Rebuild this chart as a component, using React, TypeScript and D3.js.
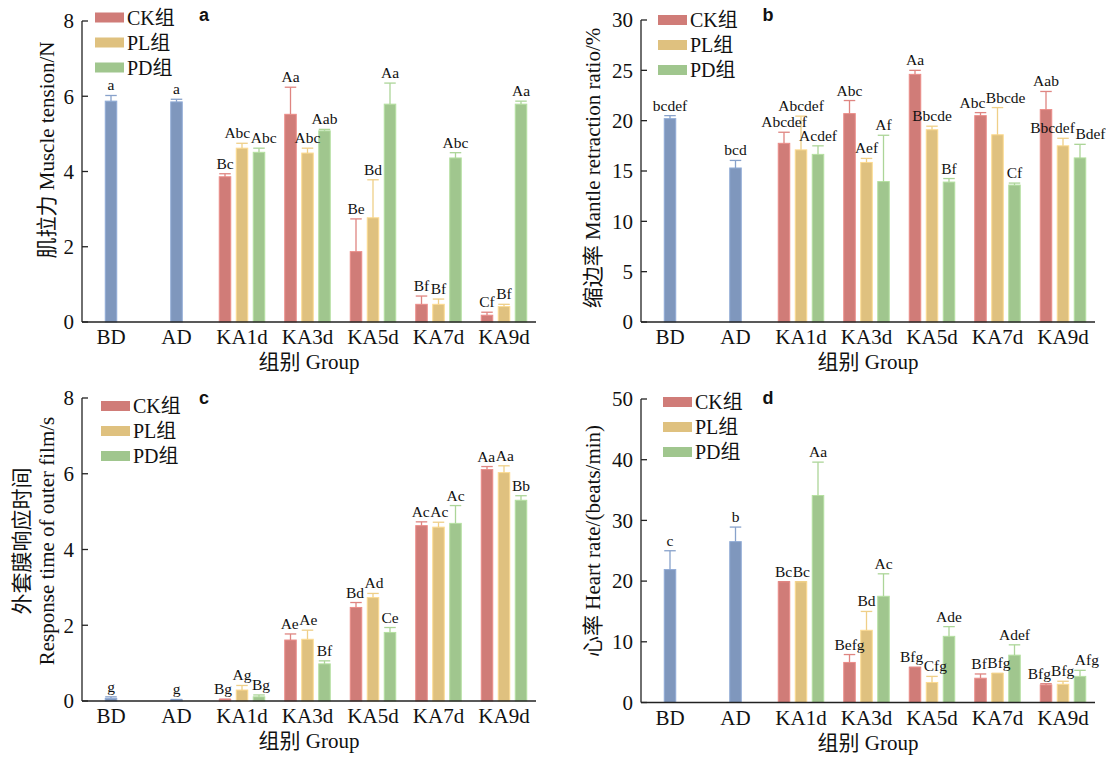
import React from 'react';
import * as d3 from 'd3';

// Groups on the x axis
const categories = ['BD', 'AD', 'KA1d', 'KA3d', 'KA5d', 'KA7d', 'KA9d'];
const baseGroups = ['BD', 'AD'];
const treatGroups = ['KA1d', 'KA3d', 'KA5d', 'KA7d', 'KA9d'];
const seriesNames = ['CK组', 'PL组', 'PD组'];

// a: muscle tension (N)
const tensionBase = [5.87, 5.85];
const tensionBaseErr = [0.15, 0.07];
const tensionBaseSig = ['a', 'a'];
const tensionMeans = [
  [3.86, 5.52, 1.87, 0.47, 0.18],
  [4.62, 4.49, 2.77, 0.47, 0.41],
  [4.51, 5.08, 5.79, 4.36, 5.79],
];
const tensionErrs = [
  [0.08, 0.72, 0.87, 0.22, 0.08],
  [0.13, 0.13, 1.01, 0.14, 0.06],
  [0.11, 0.04, 0.56, 0.14, 0.08],
];
const tensionSig = [
  ['Bc', 'Aa', 'Be', 'Bf', 'Cf'],
  ['Abc', 'Abc', 'Bd', 'Bf', 'Bf'],
  ['Abc', 'Aab', 'Aa', 'Abc', 'Aa'],
];
const tensionTicks = [0, 2, 4, 6, 8];

// b: mantle retraction ratio (%)
const retractBase = [20.2, 15.3];
const retractBaseErr = [0.3, 0.75];
const retractBaseSig = ['bcdef', 'bcd'];
const retractMeans = [
  [17.75, 20.7, 24.6, 20.5, 21.1],
  [17.1, 15.85, 19.1, 18.6, 17.5],
  [16.65, 13.95, 13.9, 13.6, 16.3],
];
const retractErrs = [
  [1.1, 1.3, 0.4, 0.3, 1.8],
  [3.35, 0.4, 0.35, 2.7, 0.75],
  [0.85, 4.6, 0.35, 0.2, 1.35],
];
const retractSig = [
  ['Abcdef', 'Abc', 'Aa', 'Abc', 'Aab'],
  ['Abcdef', 'Aef', 'Bbcde', 'Bbcde', 'Bbcdef'],
  ['Acdef', 'Af', 'Bf', 'Cf', 'Bdef'],
];
const retractTicks = [0, 5, 10, 15, 20, 25, 30];

// c: response time of outer film (s)
const responseBase = [0.07, 0.03];
const responseBaseErr = [0.04, 0.01];
const responseBaseSig = ['g', 'g'];
const responseMeans = [
  [0.04, 1.61, 2.47, 4.63, 6.11],
  [0.29, 1.63, 2.73, 4.59, 6.03],
  [0.11, 0.98, 1.81, 4.69, 5.3],
];
const responseErrs = [
  [0.01, 0.16, 0.13, 0.1, 0.08],
  [0.12, 0.24, 0.11, 0.13, 0.18],
  [0.05, 0.08, 0.13, 0.47, 0.12],
];
const responseSig = [
  ['Bg', 'Ae', 'Bd', 'Ac', 'Aa'],
  ['Ag', 'Ae', 'Ad', 'Ac', 'Aa'],
  ['Bg', 'Bf', 'Ce', 'Ac', 'Bb'],
];
const responseTicks = [0, 2, 4, 6, 8];

// d: heart rate (beats/min)
const heartBase = [21.9, 26.5];
const heartBaseErr = [3.1, 2.4];
const heartBaseSig = ['c', 'b'];
const heartMeans = [
  [19.9, 6.6, 5.8, 4.0, 2.9],
  [19.9, 11.9, 3.3, 4.8, 3.0],
  [34.1, 17.5, 10.9, 7.8, 4.3],
];
const heartErrs = [
  [0, 1.3, 0, 0.7, 0.2],
  [0, 3.1, 1.0, 0, 0.5],
  [5.5, 3.7, 1.6, 1.7, 1.0],
];
const heartSig = [
  ['Bc', 'Befg', 'Bfg', 'Bf', 'Bfg'],
  ['Bc', 'Bd', 'Cfg', 'Bfg', 'Bfg'],
  ['Aa', 'Ac', 'Ade', 'Adef', 'Afg'],
];
const heartTicks = [0, 10, 20, 30, 40, 50];

const baseColor = '#7f97bd';
const seriesColors = ['#d07c78', '#dfc17f', '#a0c68e'];

const SERIF = "'Liberation Serif', 'Times New Roman', 'Noto Sans CJK SC', serif";
const SIG_FONT = 15.5;

const measureCtx = (() => {
  if (typeof document === 'undefined') return null;
  const c = document.createElement('canvas');
  return c.getContext('2d');
})();
function textWidth(s: string, size: number) {
  if (!measureCtx) return s.length * size * 0.5;
  measureCtx.font = `${size}px 'Liberation Serif'`;
  return measureCtx.measureText(s).width;
}

type PanelCfg = {
  letter: string;
  x0: number;
  y0: number;
  yTop: number;
  max: number;
  ticks: number[];
  base: number[];
  baseErr: number[];
  baseSig: string[];
  means: number[][];
  errs: number[][];
  sig: string[][];
  titleLines: string[];
  titleX: number[];
  titleY: number;
  legendX: number;
  legendY: number;
  letterX: number;
  letterY: number;
};

const panels: PanelCfg[] = [
  {
    letter: 'a', x0: 82, y0: 322, yTop: 21, max: 8, ticks: tensionTicks,
    base: tensionBase, baseErr: tensionBaseErr, baseSig: tensionBaseSig,
    means: tensionMeans, errs: tensionErrs, sig: tensionSig,
    titleLines: ['肌拉力 Muscle tension/N'], titleX: [47], titleY: 150,
    legendX: 95, legendY: 12.5, letterX: 204, letterY: 15,
  },
  {
    letter: 'b', x0: 641, y0: 322, yTop: 20, max: 30, ticks: retractTicks,
    base: retractBase, baseErr: retractBaseErr, baseSig: retractBaseSig,
    means: retractMeans, errs: retractErrs, sig: retractSig,
    titleLines: ['缩边率 Mantle retraction ratio/%'], titleX: [593], titleY: 168,
    legendX: 658, legendY: 15, letterX: 768, letterY: 15,
  },
  {
    letter: 'c', x0: 82, y0: 701, yTop: 398, max: 8, ticks: responseTicks,
    base: responseBase, baseErr: responseBaseErr, baseSig: responseBaseSig,
    means: responseMeans, errs: responseErrs, sig: responseSig,
    titleLines: ['外套膜响应时间', 'Response time of outer film/s'], titleX: [22, 47], titleY: 541,
    legendX: 101, legendY: 401, letterX: 204, letterY: 398,
  },
  {
    letter: 'd', x0: 641, y0: 702.5, yTop: 399, max: 50, ticks: heartTicks,
    base: heartBase, baseErr: heartBaseErr, baseSig: heartBaseSig,
    means: heartMeans, errs: heartErrs, sig: heartSig,
    titleLines: ['心率 Heart rate/(beats/min)'], titleX: [593], titleY: 541,
    legendX: 663, legendY: 397, letterX: 768, letterY: 398,
  },
];

const STEP = 65.5;
const BAR_W = 11.5;

type Label = { text: string; cx: number; dx: number; y: number; w: number };

function Panel({ cfg }: { cfg: PanelCfg }) {
  const y = d3.scaleLinear().domain([0, cfg.max]).range([cfg.y0, cfg.yTop]);
  const x = d3
    .scalePoint<string>()
    .domain(categories)
    .range([cfg.x0 + 29, cfg.x0 + 29 + STEP * (categories.length - 1)]);
  const inner = d3.scalePoint<string>().domain(seriesNames).range([-17, 17]);
  const xEnd = cfg.x0 + 454;

  type Bar = { cx: number; v: number; e: number; color: string; key: string };
  const bars: Bar[] = [];
  const labels: Label[] = [];

  baseGroups.forEach((g, i) => {
    const cx = x(g)!;
    bars.push({ cx, v: cfg.base[i], e: cfg.baseErr[i], color: baseColor, key: g });
    labels.push({
      text: cfg.baseSig[i], cx, dx: 0,
      y: y(cfg.base[i] + cfg.baseErr[i]) - 5,
      w: textWidth(cfg.baseSig[i], SIG_FONT),
    });
  });

  treatGroups.forEach((g, gi) => {
    const group: Label[] = [];
    seriesNames.forEach((s, si) => {
      const cx = x(g)! + inner(s)!;
      const v = cfg.means[si][gi];
      const e = cfg.errs[si][gi];
      bars.push({ cx, v, e, color: seriesColors[si], key: g + s });
      const t = cfg.sig[si][gi];
      group.push({ text: t, cx, dx: 0, y: y(v + e) - 5, w: textWidth(t, SIG_FONT) });
    });
    // push apart neighbouring letters that would collide
    for (let pass = 0; pass < 3; pass++) {
      for (let k = 0; k < group.length - 1; k++) {
        const a = group[k];
        const b = group[k + 1];
        if (Math.abs(a.y - b.y) > SIG_FONT * 0.9) continue;
        const aRight = a.cx + a.dx + a.w / 2;
        const bLeft = b.cx + b.dx - b.w / 2;
        const overlap = aRight - bLeft + 0.5;
        if (overlap > 0) {
          a.dx -= overlap / 2;
          b.dx += overlap / 2;
        }
      }
    }
    labels.push(...group);
  });

  return (
    <g>
      {/* bars */}
      {bars.map((b) => (
        <rect
          key={b.key}
          x={b.cx - BAR_W / 2}
          y={y(b.v)}
          width={BAR_W}
          height={y(0) - y(b.v)}
          fill={b.color}
          stroke={d3.color(b.color)!.brighter(0.35).formatHex()}
          strokeWidth={1}
        />
      ))}
      {/* error bars */}
      {bars.map((b) => {
        const c = d3.color(b.color)!.brighter(0.2).formatHex();
        const top = y(b.v + b.e);
        return (
          <g key={'e' + b.key} stroke={c} strokeWidth={1.3} fill="none">
            {b.e > 0 && <line x1={b.cx} x2={b.cx} y1={y(b.v)} y2={top} />}
            <line x1={b.cx - BAR_W / 2} x2={b.cx + BAR_W / 2} y1={top} y2={top} />
          </g>
        );
      })}
      {/* significance letters */}
      {labels.map((l, i) => (
        <text
          key={'l' + i}
          x={l.cx + l.dx}
          y={l.y}
          textAnchor="middle"
          fontSize={SIG_FONT}
          fontFamily={SERIF}
          fill="#111"
        >
          {l.text}
        </text>
      ))}
      {/* axes */}
      <line x1={cfg.x0} x2={cfg.x0} y1={cfg.y0} y2={cfg.yTop} stroke="#222" strokeWidth={1.3} />
      <line x1={cfg.x0} x2={xEnd} y1={cfg.y0} y2={cfg.y0} stroke="#222" strokeWidth={1.3} />
      {cfg.ticks.map((t) => (
        <g key={'t' + t}>
          <line x1={cfg.x0} x2={cfg.x0 + 6} y1={y(t)} y2={y(t)} stroke="#222" strokeWidth={1.3} />
          <text
            x={cfg.x0 - 8}
            y={y(t)}
            dy="0.35em"
            textAnchor="end"
            fontSize={21}
            fontFamily={SERIF}
            fill="#111"
          >
            {t}
          </text>
        </g>
      ))}
      {categories.map((c) => (
        <text
          key={'c' + c}
          x={x(c)!}
          y={cfg.y0 + 22}
          textAnchor="middle"
          fontSize={21}
          fontFamily={SERIF}
          fill="#111"
        >
          {c}
        </text>
      ))}
      <text
        x={(cfg.x0 + xEnd) / 2}
        y={cfg.y0 + 47}
        textAnchor="middle"
        fontSize={21}
        fontFamily={SERIF}
        fill="#111"
      >
        组别 Group
      </text>
      {cfg.titleLines.map((line, i) => (
        <text
          key={'yt' + i}
          transform={`translate(${cfg.titleX[i]},${cfg.titleY}) rotate(-90)`}
          textAnchor="middle"
          dominantBaseline="central"
          fontSize={21}
          fontFamily={SERIF}
          fill="#111"
        >
          {line}
        </text>
      ))}
      {/* legend */}
      {seriesNames.map((s, i) => (
        <g key={'lg' + s} transform={`translate(${cfg.legendX},${cfg.legendY + i * 25})`}>
          <rect width={29} height={10} fill={seriesColors[i]} />
          <text x={32} y={5} dy="0.36em" fontSize={20} fontFamily={SERIF} fill="#111">
            {s}
          </text>
        </g>
      ))}
      <text
        x={cfg.letterX}
        y={cfg.letterY}
        dy="0.35em"
        textAnchor="middle"
        fontSize={18}
        fontWeight="bold"
        fontFamily="'Liberation Sans', Arial, sans-serif"
        fill="#111"
      >
        {cfg.letter}
      </text>
    </g>
  );
}

export default function App() {
  return (
    <svg
      width={1106}
      height={760}
      style={{ position: 'absolute', left: 0, top: 0, background: '#fff' }}
    >
      <rect width={1106} height={760} fill="#fff" />
      {panels.map((p) => (
        <Panel key={p.letter} cfg={p} />
      ))}
    </svg>
  );
}
